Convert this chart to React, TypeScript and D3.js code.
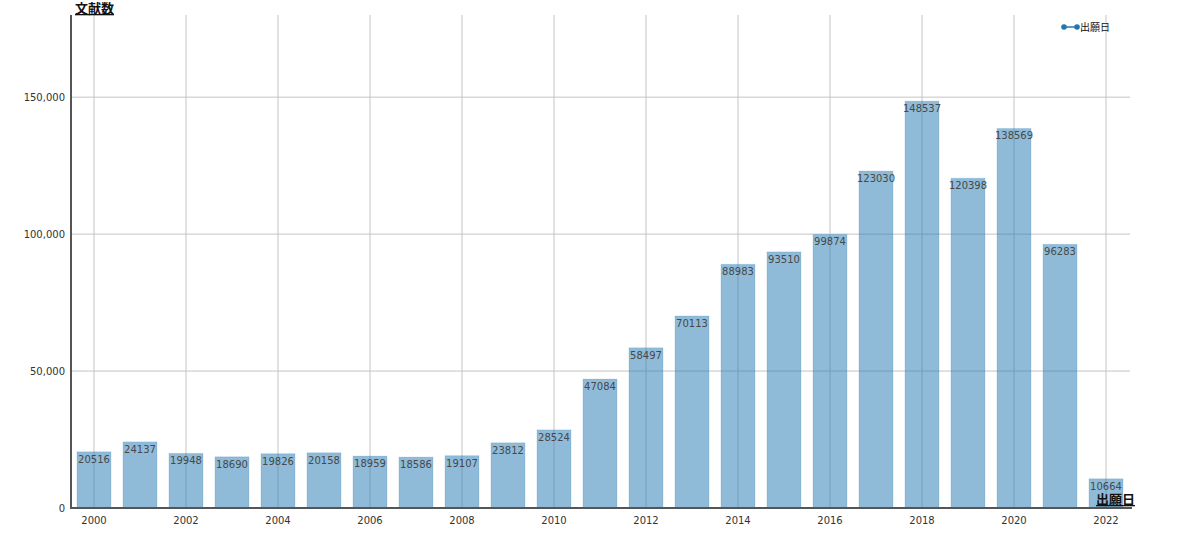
import React, { useEffect, useRef } from "react";
import * as d3 from "d3";

const years = ["2000","2001","2002","2003","2004","2005","2006","2007","2008","2009","2010","2011","2012","2013","2014","2015","2016","2017","2018","2019","2020","2021","2022"];
const counts = [20516,24137,19948,18690,19826,20158,18959,18586,19107,23812,28524,47084,58497,70113,88983,93510,99874,123030,148537,120398,138569,96283,10664];
const yTicks = [0, 50000, 100000, 150000];
const xTickYears = ["2000","2002","2004","2006","2008","2010","2012","2014","2016","2018","2020","2022"];
const seriesName = "出願日";
const yTitle = "文献数";
const xTitle = "出願日";

export default function App() {
  const ref = useRef<SVGSVGElement>(null);
  useEffect(() => {
    const svg = d3.select(ref.current);
    svg.selectAll("*").remove();
    const left = 71, right = 1129, top = 15, bottom = 508;
    const font = "Verdana, 'DejaVu Sans', sans-serif";
    const x = d3.scaleBand().domain(years).range([left, right]).paddingInner(0.26).paddingOuter(0.13);
    const y = d3.scaleLinear().domain([0, 180000]).range([bottom, top]);
    const color = "#1f77b4";

    svg.append("g").selectAll("line").data(yTicks.slice(1)).join("line")
      .attr("x1", left).attr("x2", right + 1)
      .attr("y1", d => y(d)).attr("y2", d => y(d))
      .attr("stroke", "#c4c4c4").attr("stroke-width", 1);
    svg.append("g").selectAll("line").data(xTickYears).join("line")
      .attr("x1", d => x(d)! + x.bandwidth() / 2).attr("x2", d => x(d)! + x.bandwidth() / 2)
      .attr("y1", top).attr("y2", bottom)
      .attr("stroke", "#c4c4c4").attr("stroke-width", 1);

    svg.append("g").selectAll("rect").data(years).join("rect")
      .attr("x", d => x(d)!).attr("width", x.bandwidth())
      .attr("y", (d, i) => y(counts[i])).attr("height", (d, i) => bottom - y(counts[i]))
      .attr("fill", color).attr("fill-opacity", 0.5)
      .attr("stroke", color).attr("stroke-opacity", 0.15);

    svg.append("g").selectAll("text").data(years).join("text")
      .attr("x", d => x(d)! + x.bandwidth() / 2)
      .attr("y", (d, i) => y(counts[i]) + 11)
      .attr("text-anchor", "middle")
      .attr("font-family", font).attr("font-size", 10)
      .attr("fill", "#484848")
      .text((d, i) => String(counts[i]));

    svg.append("line").attr("x1", left).attr("x2", left).attr("y1", top).attr("y2", bottom + 1)
      .attr("stroke", "#555").attr("stroke-width", 2);
    svg.append("line").attr("x1", left).attr("x2", right + 3).attr("y1", bottom).attr("y2", bottom)
      .attr("stroke", "#555").attr("stroke-width", 2);

    const fmt = d3.format(",");
    svg.append("g").selectAll("text").data(yTicks).join("text")
      .attr("x", left - 6).attr("y", d => y(d) + 4)
      .attr("text-anchor", "end")
      .attr("font-family", font).attr("font-size", 10)
      .attr("fill", "#333")
      .text(d => fmt(d));

    svg.append("g").selectAll("text").data(xTickYears).join("text")
      .attr("x", d => x(d)! + x.bandwidth() / 2).attr("y", bottom + 16)
      .attr("text-anchor", "middle")
      .attr("font-family", font).attr("font-size", 10)
      .attr("fill", "#333")
      .text(d => d);

    svg.append("text").attr("x", 75).attr("y", 13)
      .attr("font-family", "'Noto Sans CJK JP', sans-serif").attr("font-size", 13).attr("font-weight", "bold")
      .attr("text-decoration", "underline").attr("fill", "#111").text(yTitle);
    svg.append("text").attr("x", 1135).attr("y", 504).attr("text-anchor", "end")
      .attr("font-family", "'Noto Sans CJK JP', sans-serif").attr("font-size", 13).attr("font-weight", "bold")
      .attr("text-decoration", "underline").attr("fill", "#111").text(xTitle);

    const lg = svg.append("g");
    lg.append("line").attr("x1", 1064).attr("x2", 1077).attr("y1", 27).attr("y2", 27)
      .attr("stroke", color).attr("stroke-width", 1.5);
    lg.selectAll("circle").data([1064, 1077]).join("circle")
      .attr("cx", d => d).attr("cy", 27).attr("r", 2.8).attr("fill", color);
    lg.append("text").attr("x", 1080).attr("y", 31)
      .attr("font-family", "'Noto Sans CJK JP', sans-serif").attr("font-size", 10)
      .attr("fill", "#111").text(seriesName);
  }, []);
  return (
    <svg ref={ref} width={1200} height={542} style={{ position: "absolute", left: 0, top: 0, background: "#fff" }} />
  );
}
